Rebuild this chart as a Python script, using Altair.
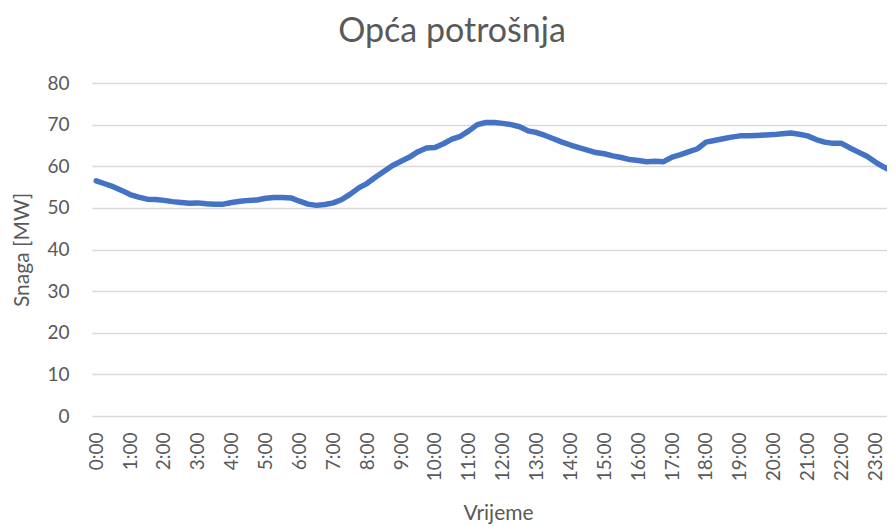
import altair as alt
import pandas as pd

# 15-minute readings over one day
times = [f"{h}:{m:02d}" for h in range(24) for m in (0, 15, 30, 45)]
hour_labels = [f"{h}:00" for h in range(24)]
power = [
    56.5, 55.8, 55.1, 54.2, 53.2, 52.6, 52.1, 52.0,
    51.8, 51.5, 51.3, 51.1, 51.2, 51.0, 50.9, 50.9,
    51.3, 51.6, 51.8, 51.9, 52.3, 52.5, 52.5, 52.4,
    51.6, 50.9, 50.6, 50.8, 51.2, 52.0, 53.3, 54.8,
    55.9, 57.4, 58.8, 60.2, 61.2, 62.2, 63.5, 64.4,
    64.5, 65.4, 66.5, 67.2, 68.5, 70.0, 70.5, 70.5,
    70.3, 70.0, 69.5, 68.5, 68.1, 67.4, 66.6, 65.8,
    65.1, 64.5, 63.9, 63.3, 63.0, 62.5, 62.1, 61.6,
    61.4, 61.1, 61.2, 61.1, 62.2, 62.8, 63.5, 64.2,
    65.8, 66.2, 66.6, 67.0, 67.3, 67.3, 67.4, 67.5,
    67.6, 67.8, 68.0, 67.7, 67.3, 66.4, 65.8, 65.5,
    65.5, 64.4, 63.4, 62.4, 61.0, 59.8, 58.8, 57.8,
]
y_ticks = [0, 10, 20, 30, 40, 50, 60, 70, 80]

df = pd.DataFrame({"idx": list(range(len(times))), "time": times, "power": power})

TEXT = "#595959"
FONT = "Lato"

line = alt.Chart(df).mark_line(
    color="#4472C4", strokeWidth=5.5, clip=True, strokeJoin="round", strokeCap="round"
).encode(
    x=alt.X(
        "idx:Q",
        scale=alt.Scale(domain=[-0.5, 93.375], nice=False, zero=False),
        axis=alt.Axis(
            title="Vrijeme",
            values=list(range(0, 96, 4)),
            labelExpr="floor(datum.value / 4) + ':00'",
            labelAngle=-90,
            labelPadding=16,
            grid=False,
            ticks=False,
            domain=False,
            labelFont=FONT,
            labelFontSize=19,
            labelColor=TEXT,
            titleFont=FONT,
            titleFontSize=21,
            titleFontWeight="normal",
            titleColor=TEXT,
            titleX=406,
            titlePadding=22,
            labelOverlap=False,
            labelFlush=False,
        ),
    ),
    y=alt.Y(
        "power:Q",
        scale=alt.Scale(domain=[0, 80], nice=False),
        axis=alt.Axis(
            title="Snaga [MW]",
            values=y_ticks,
            grid=True,
            gridColor="#D9D9D9",
            gridWidth=1.5,
            ticks=False,
            domain=False,
            labelPadding=23,
            labelFont=FONT,
            labelFontSize=19,
            labelColor=TEXT,
            titleFont=FONT,
            titleFontSize=21,
            titleFontWeight="normal",
            titleColor=TEXT,
            titlePadding=14,
        ),
    ),
    tooltip=["time", "power"],
).properties(
    width=795,
    height=333,
    title=alt.TitleParams(
        "Opća potrošnja",
        font=FONT,
        fontSize=34,
        fontWeight="normal",
        color=TEXT,
        anchor="middle",
        dx=-37.5,
        offset=25,
    ),
    autosize=alt.AutoSizeParams(type="none"),
    padding={"left": 84, "top": 75, "right": 0, "bottom": 112},
).configure_view(stroke=None)

line.save("out.html", embed_options={"renderer": "svg", "actions": False})
